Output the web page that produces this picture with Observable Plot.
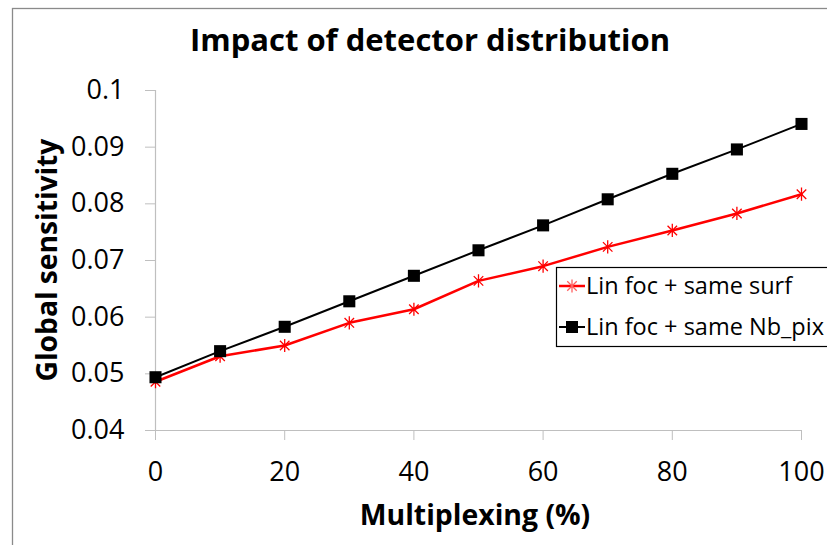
<!DOCTYPE html>
<html>
<head>
<meta charset="utf-8">
<script src="https://cdn.jsdelivr.net/npm/d3@7"></script>
<script src="https://cdn.jsdelivr.net/npm/@observablehq/plot@0.6"></script>
<style>
  html, body { margin: 0; padding: 0; background: #fff; }
  #chart svg { display: block; font-family: "Open Sans", sans-serif; }
</style>
</head>
<body>
<div id="chart"></div>
<script>
// ---- data ----
const multiplexing = [0, 10, 20, 30, 40, 50, 60, 70, 80, 90, 100];
const sameSurf = [0.0486, 0.0531, 0.0550, 0.0590, 0.0614, 0.0664, 0.0690, 0.0724, 0.0753, 0.0783, 0.0817];
const sameNbPix = [0.0494, 0.0540, 0.0583, 0.0628, 0.0673, 0.0718, 0.0762, 0.0808, 0.0853, 0.0896, 0.0941];
const seriesNames = ["Lin foc + same surf", "Lin foc + same Nb_pix"];
const xTicks = [0, 20, 40, 60, 80, 100];
const yTicks = [0.04, 0.05, 0.06, 0.07, 0.08, 0.09, 0.1];
const titleText = "Impact of detector distribution";
const xLabel = "Multiplexing (%)";
const yLabel = "Global sensitivity";

const surfData = multiplexing.map((x, i) => ({x, y: sameSurf[i]}));
const pixData = multiplexing.map((x, i) => ({x, y: sameNbPix[i]}));

const axisColor = "#bfbfbf";

// Excel-style "star" marker: a vertical stroke plus an X
const starSymbol = {
  draw(context, size) {
    const r = Math.sqrt(size / Math.PI) * 1.1;
    const d = r * 0.72;
    context.moveTo(0, -r); context.lineTo(0, r);
    context.moveTo(-d, -d); context.lineTo(d, d);
    context.moveTo(-d, d); context.lineTo(d, -d);
  }
};

const chart = Plot.plot({
  width: 827,
  height: 545,
  marginLeft: 155,
  marginRight: 26,
  marginTop: 90,
  marginBottom: 115,
  style: {fontFamily: "'Open Sans', sans-serif", background: "white"},
  x: {domain: [0, 100]},
  y: {domain: [0.04, 0.1]},
  marks: [
    Plot.ruleX([0], {stroke: axisColor, strokeWidth: 1.2}),
    Plot.ruleY([0.04], {stroke: axisColor, strokeWidth: 1.2}),
    Plot.axisY({ticks: yTicks, tickSize: 10, tickPadding: 21, stroke: axisColor, fill: "black",
      fontSize: 27, label: null, tickFormat: d => String(+d.toFixed(2))}),
    Plot.axisX({ticks: xTicks, tickSize: 10, tickPadding: 21, stroke: axisColor, fill: "black",
      fontSize: 27, label: null, tickFormat: d => String(d)}),
    Plot.line(surfData, {x: "x", y: "y", stroke: "#ff0000", strokeWidth: 2.5}),
    Plot.dot(surfData, {x: "x", y: "y", symbol: starSymbol, r: 6, stroke: "#ff0000", strokeWidth: 1.3, fill: "none"}),
    Plot.line(pixData, {x: "x", y: "y", stroke: "black", strokeWidth: 2}),
    Plot.dot(pixData, {x: "x", y: "y", symbol: "square", r: 6.8, fill: "black", stroke: "none"})
  ]
});

document.getElementById("chart").appendChild(chart);

const svg = d3.select(chart);
const ff = "'Open Sans', sans-serif";

// outer chart border (extends past the picture)
svg.append("rect")
  .attr("x", 12.5).attr("y", 8.5).attr("width", 900).attr("height", 600)
  .attr("fill", "none").attr("stroke", "#8a8a8a").attr("stroke-width", 1.3);

// title
svg.append("text")
  .attr("x", 430).attr("y", 51)
  .attr("text-anchor", "middle")
  .attr("font-family", ff).attr("font-weight", "bold").attr("font-size", 31)
  .attr("fill", "black")
  .text(titleText);

// x label
svg.append("text")
  .attr("x", 475).attr("y", 525)
  .attr("text-anchor", "middle")
  .attr("font-family", ff).attr("font-weight", "bold").attr("font-size", 28.4)
  .attr("fill", "black")
  .text(xLabel);

// y label
svg.append("text")
  .attr("transform", "translate(57,260) rotate(-90)")
  .attr("text-anchor", "middle")
  .attr("font-family", ff).attr("font-weight", "bold").attr("font-size", 28.2)
  .attr("fill", "black")
  .text(yLabel);

// legend
const lg = svg.append("g");
lg.append("rect")
  .attr("x", 556.5).attr("y", 267.5).attr("width", 300).attr("height", 79)
  .attr("fill", "white").attr("stroke", "black").attr("stroke-width", 1.2);

const rows = [
  {name: seriesNames[0], color: "#ff0000", symbol: starSymbol, cy: 286, filled: false},
  {name: seriesNames[1], color: "black", symbol: d3.symbolSquare, cy: 327, filled: true}
];
rows.forEach(r => {
  lg.append("line")
    .attr("x1", 559).attr("x2", 585).attr("y1", r.cy).attr("y2", r.cy)
    .attr("stroke", r.color).attr("stroke-width", r.filled ? 2 : 2.5);
  const size = r.filled ? Math.PI * 6.8 * 6.8 : Math.PI * 6 * 6;
  lg.append("path")
    .attr("transform", `translate(572,${r.cy})`)
    .attr("d", d3.symbol(r.symbol, size)())
    .attr("fill", r.filled ? r.color : "none")
    .attr("stroke", r.filled ? "none" : "#ff6060")
    .attr("stroke-width", 1.3);
  lg.append("text")
    .attr("x", 586).attr("y", r.cy + 8)
    .attr("text-anchor", "start")
    .attr("font-family", ff).attr("font-size", 23.5)
    .attr("fill", "black")
    .text(r.name);
});
</script>
</body>
</html>
